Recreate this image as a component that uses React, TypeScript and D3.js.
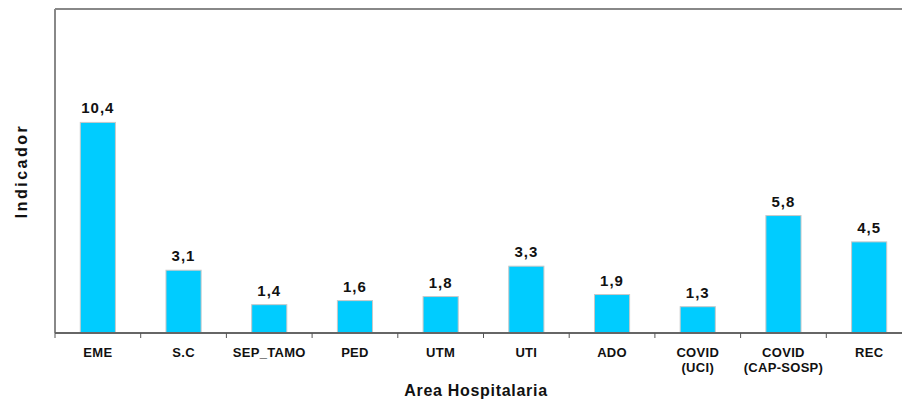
import React from "react";
import * as d3 from "d3";

const categories = ["EME", "S.C", "SEP_TAMO", "PED", "UTM", "UTI", "ADO", "COVID\n(UCI)", "COVID\n(CAP-SOSP)", "REC"];
const values = [10.4, 3.1, 1.4, 1.6, 1.8, 3.3, 1.9, 1.3, 5.8, 4.5];
const valueLabels = ["10,4", "3,1", "1,4", "1,6", "1,8", "3,3", "1,9", "1,3", "5,8", "4,5"];
const yMax = 16;

export default function App() {
  const W = 902, H = 403;
  const left = 55, right = 912, top = 9, bottom = 333;
  const x = d3.scaleBand<string>().domain(categories).range([left, right]).paddingInner(0.59).paddingOuter(0.295);
  const band = d3.scaleBand<string>().domain(categories).range([left, right]);
  const y = d3.scaleLinear().domain([0, yMax]).range([bottom, top]);
  const font = "'Liberation Sans', Arial, sans-serif";
  return (
    <svg width={W} height={H} style={{ position: "absolute", left: 0, top: 0 }} fontFamily={font}>
      <rect x={0} y={0} width={W} height={H} fill="#fff" />
      {/* plot frame */}
      <line x1={left} x2={W} y1={top} y2={top} stroke="#888" strokeWidth={2} />
      <line x1={left} x2={left} y1={top} y2={bottom} stroke="#888" strokeWidth={2} />
      {categories.map((c, i) => (
        <g key={c}>
          <rect x={x(c)!} y={y(values[i])} width={x.bandwidth()} height={bottom - y(values[i])} fill="#00CCFF" stroke="#c8c8c8" strokeWidth={1} />
          <text x={x(c)! + x.bandwidth() / 2} y={y(values[i]) - 9} textAnchor="middle" fontSize={15} fontWeight="bold" letterSpacing={1} fill="#111">{valueLabels[i]}</text>
        </g>
      ))}
      <line x1={left} x2={W} y1={bottom} y2={bottom} stroke="#666" strokeWidth={2} />
      {categories.map((c) => (
        <line key={"t" + c} x1={band(c)!} x2={band(c)!} y1={bottom} y2={bottom + 5} stroke="#555" strokeWidth={1} />
      ))}
      {categories.map((c) => (
        <text key={"l" + c} x={band(c)! + band.bandwidth() / 2} y={357} textAnchor="middle" fontSize={13} fontWeight="bold" letterSpacing={0.3} fill="#111">
          {c.split("\n").map((s, k) => (
            <tspan key={k} x={band(c)! + band.bandwidth() / 2} dy={k === 0 ? 0 : 15}>{s}</tspan>
          ))}
        </text>
      ))}
      <text x={476} y={396} textAnchor="middle" fontSize={16} fontWeight="bold" letterSpacing={0.7} fill="#111">Area Hospitalaria</text>
      <text transform="translate(27,171) rotate(-90)" textAnchor="middle" fontSize={16} fontWeight="bold" letterSpacing={2.5} fill="#111">Indicador</text>
    </svg>
  );
}
